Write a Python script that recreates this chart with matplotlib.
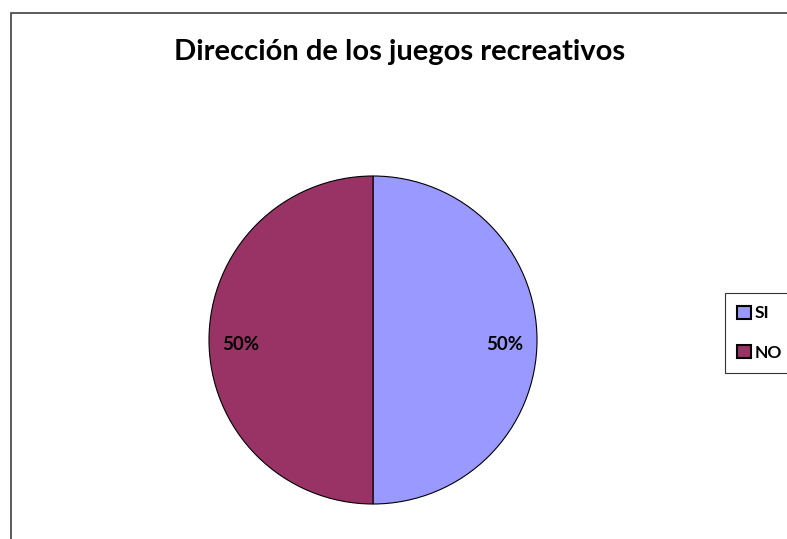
import matplotlib.pyplot as plt
from matplotlib.patches import Rectangle

# Respuestas de la encuesta
categorias = ["SI", "NO"]
porcentajes = [50, 50]
colores = ["#9999FF", "#993366"]

plt.rcParams['font.family'] = ['Lato', 'DejaVu Sans']

fig = plt.figure(figsize=(7.87, 5.39), dpi=100)
fig.patch.set_facecolor("white")

# marco del gráfico (borde derecho e inferior quedan fuera)
fig.patches.append(Rectangle((11 / 787, -0.05), 1.1, 1 - 13 / 539 + 0.05,
                             transform=fig.transFigure, fill=False,
                             edgecolor="#404040", linewidth=1.2))

ax = fig.add_axes([(373 - 164) / 787, 1 - (340 + 164) / 539,
                   328 / 787, 328 / 539])
wedges, textos, autotextos = ax.pie(
    porcentajes, colors=colores, startangle=90, counterclock=False,
    autopct="%1.0f%%", pctdistance=0.805, radius=1,
    wedgeprops=dict(edgecolor="black", linewidth=0.8),
    textprops=dict(fontsize=13.5, fontweight="bold", color="black"))
for t in autotextos:
    x, y = t.get_position()
    t.set_position((x, y - 0.025))
ax.set_xlim(-1, 1)
ax.set_ylim(-1, 1)
ax.set_aspect("equal")

fig.text(400 / 787, 1 - 52 / 539, "Dirección de los juegos recreativos",
         ha="center", va="center", fontsize=21, fontweight="bold")

leg = fig.legend(wedges, categorias, loc="center left",
                 bbox_to_anchor=(725 / 787, 1 - 333 / 539),
                 frameon=True, fancybox=False, edgecolor="black",
                 handlelength=0.8, handleheight=0.8, handletextpad=0.2,
                 labelspacing=1.35, borderpad=0.7, borderaxespad=0,
                 prop=dict(size=12.5, weight="bold"))
leg.get_frame().set_linewidth(0.8)
for h in leg.legend_handles:
    h.set_edgecolor("black")
    h.set_linewidth(1.5)

fig.savefig("out.png", dpi=100)
